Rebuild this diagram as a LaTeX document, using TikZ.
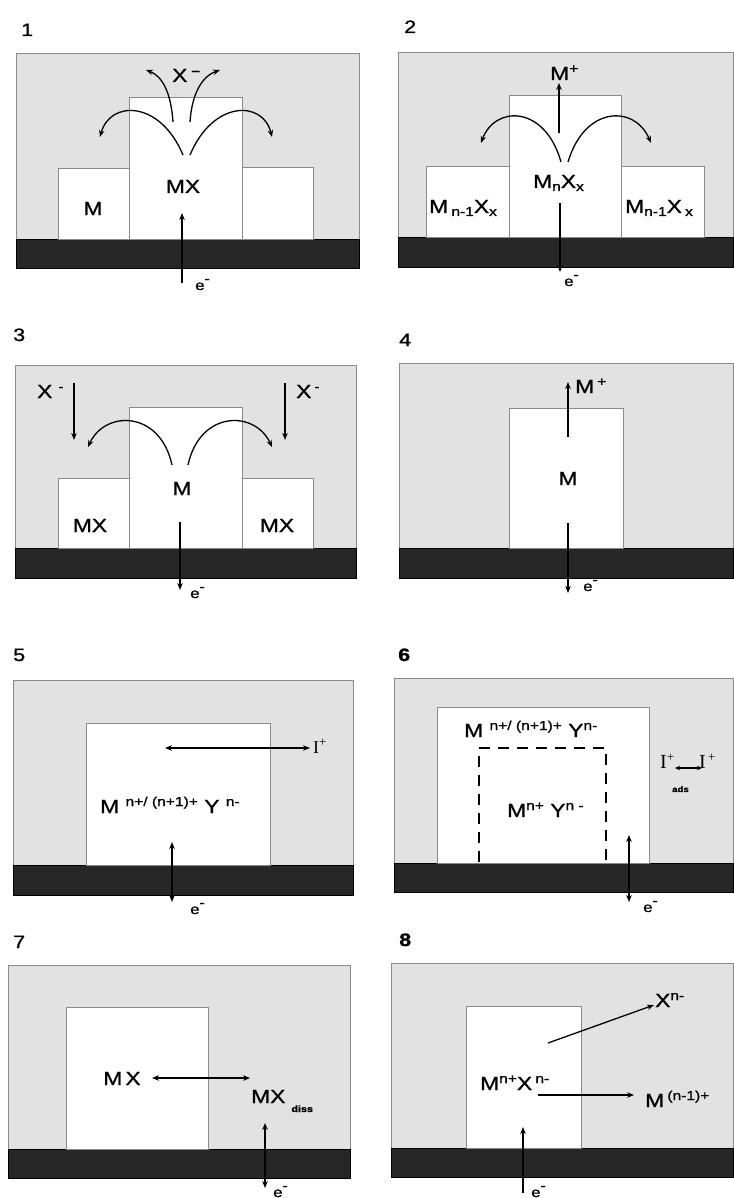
\documentclass[tikz,border=0pt]{standalone}
\usepackage{fontspec}
\setmainfont{Liberation Sans}[FakeStretch=1.2, FakeBold=1]
\newfontfamily\ionfont{Liberation Serif}
\usetikzlibrary{arrows.meta}
\definecolor{cellGrey}{HTML}{E2E2E2}
\definecolor{edgeGrey}{HTML}{8A8A8A}
\definecolor{baseDark}{HTML}{272727}
\newcommand{\sups}[1]{\raisebox{7pt}{\fontsize{13}{13}\selectfont #1}}
\newcommand{\subs}[1]{\raisebox{-3pt}{\fontsize{13}{13}\selectfont #1}}

\begin{document}
\begin{tikzpicture}[x=1pt, y=-1pt,
  font=\fontsize{19}{21}\selectfont,
  cell/.style={fill=cellGrey, draw=edgeGrey, line width=0.8pt},
  base/.style={fill=baseDark, draw=black, line width=0.8pt},
  grain/.style={fill=white, draw=edgeGrey, line width=0.7pt},
  species/.style={inner sep=0pt, anchor=base},
  speciesw/.style={inner sep=0pt, anchor=base west},
  elec/.style={inner sep=0pt, anchor=base west, font=\fontsize{14}{14}\selectfont},
  panelno/.style={inner sep=0pt, anchor=base west, font=\fontsize{18}{18}\selectfont},
  arrow/.style={-{Stealth[length=7pt, width=5.5pt]}, line width=1.3pt},
  twoway/.style={{Stealth[length=7pt, width=5.5pt]}-{Stealth[length=7pt, width=5.5pt]}, line width=1.3pt},
]
\useasboundingbox (0,0) rectangle (733,1198);

% 1
\node[panelno] (no1) at (21,36) {1};
\draw[cell] (16,53) rectangle (359,239);
\draw[base] (16,239) rectangle (359,268);
\draw[grain] (58,168) rectangle (129,239);
\draw[grain] (129,97) rectangle (242,239);
\draw[grain] (242,167) rectangle (313,239);
\node[species] (m1) at (93,215) {M};
\node[species] (mx1) at (183,193) {MX};
\node[speciesw] (x1) at (172,82) {X\hspace{4pt}\sups{\textbf{--}}};
\node[elec] (e1) at (195,290) {e\sups{-}};
\coordinate (p1a) at (183,155); \coordinate (p1b) at (100,137);
\coordinate (p1c) at (190,155); \coordinate (p1d) at (272,137);
\coordinate (p1e) at (173,122); \coordinate (p1f) at (146,70);
\coordinate (p1g) at (190,122); \coordinate (p1h) at (220,70);
\coordinate (p1i) at (182,283); \coordinate (p1j) at (182,213);
\draw[arrow] (p1a) .. controls (160,100) and (110,100) .. (p1b);
\draw[arrow] (p1c) .. controls (213,100) and (263,100) .. (p1d);
\draw[arrow] (p1e) .. controls (171,92) and (162,76) .. (p1f);
\draw[arrow] (p1g) .. controls (192,92) and (203,76) .. (p1h);
\draw[arrow] (p1i) -- (p1j);

% 2
\node[panelno] (no2) at (404,33) {2};
\draw[cell] (398,52) rectangle (733,237);
\draw[base] (398,237) rectangle (733,267);
\draw[grain] (426,166) rectangle (509,237);
\draw[grain] (509,95) rectangle (621,237);
\draw[grain] (621,166) rectangle (704,237);
\node[speciesw] (mp2) at (550,80) {M\sups{+}};
\node[speciesw] (mnx2) at (533,188) {M\subs{n}X\subs{x}};
\node[speciesw] (ml2) at (429,213) {M\,\subs{n-1}X\subs{x}};
\node[speciesw] (mr2) at (625,213) {M\subs{n-1}X\,\subs{x}};
\node[elec] (e2) at (564,286) {e\sups{-}};
\coordinate (p2a) at (561,162); \coordinate (p2b) at (481,143);
\coordinate (p2c) at (568,162); \coordinate (p2d) at (651,143);
\coordinate (p2e) at (559,133); \coordinate (p2f) at (559,83);
\coordinate (p2g) at (560,203); \coordinate (p2h) at (560,272);
\draw[arrow] (p2a) .. controls (545,105) and (495,105) .. (p2b);
\draw[arrow] (p2c) .. controls (585,105) and (635,105) .. (p2d);
\draw[arrow] (p2e) -- (p2f);
\draw[arrow] (p2g) -- (p2h);

% 3
\node[panelno] (no3) at (13,341) {3};
\draw[cell] (15,365) rectangle (356,548);
\draw[base] (15,548) rectangle (356,578);
\draw[grain] (58,478) rectangle (129,548);
\draw[grain] (129,407) rectangle (242,548);
\draw[grain] (242,478) rectangle (313,548);
\node[speciesw] (xl3) at (37,398) {X\hspace{6pt}\sups{-}};
\node[speciesw] (xr3) at (296,398) {X\hspace{3pt}\sups{-}};
\node[species] (m3) at (182,495) {M};
\node[species] (mxl3) at (90,532) {MX};
\node[species] (mxr3) at (277,532) {MX};
\node[elec] (e3) at (190,598) {e\sups{-}};
\coordinate (p3a) at (172,465); \coordinate (p3b) at (88,447);
\coordinate (p3c) at (188,465); \coordinate (p3d) at (272,447);
\coordinate (p3e) at (74,383); \coordinate (p3f) at (74,440);
\coordinate (p3g) at (285,383); \coordinate (p3h) at (285,440);
\coordinate (p3i) at (180,522); \coordinate (p3j) at (180,590);
\draw[arrow] (p3a) .. controls (160,410) and (105,410) .. (p3b);
\draw[arrow] (p3c) .. controls (200,410) and (255,410) .. (p3d);
\draw[arrow] (p3e) -- (p3f);
\draw[arrow] (p3g) -- (p3h);
\draw[arrow] (p3i) -- (p3j);

% 4
\node[panelno] (no4) at (399,346) {4};
\draw[cell] (399,363) rectangle (733,548);
\draw[base] (399,548) rectangle (733,578);
\draw[grain] (509,408) rectangle (623,548);
\node[speciesw] (mp4) at (575,393) {M\hspace{3pt}\sups{+}};
\node[species] (m4) at (568,485) {M};
\node[elec] (e4) at (583,591) {e\sups{-}};
\coordinate (p4a) at (568,437); \coordinate (p4b) at (568,382);
\coordinate (p4c) at (568,523); \coordinate (p4d) at (568,593);
\draw[arrow] (p4a) -- (p4b);
\draw[arrow] (p4c) -- (p4d);

% 5
\node[panelno] (no5) at (13,661) {5};
\draw[cell] (13,680) rectangle (353,865);
\draw[base] (13,865) rectangle (353,895);
\draw[grain] (86,723) rectangle (270,865);
\node[speciesw] (i5) at (313,753) {\ionfont\fontsize{18}{18}\selectfont I\sups{+}};
\node[speciesw] (my5) at (100,813) {M \sups{n+/ (n+1)+} Y \sups{n-}};
\node[elec] (e5) at (190,914) {e\sups{-}};
\coordinate (p5a) at (165,748); \coordinate (p5b) at (310,748);
\coordinate (p5c) at (172,842); \coordinate (p5d) at (172,902);
\draw[twoway] (p5a) -- (p5b);
\draw[twoway] (p5c) -- (p5d);

% 6
\node[panelno, font=\fontsize{18}{18}\selectfont\bfseries] (no6) at (398,661) {6};
\draw[cell] (394,678) rectangle (733,863);
\draw[base] (394,863) rectangle (733,892);
\draw[grain] (437,707) rectangle (649,863);
\draw[line width=1.3pt, dash pattern=on 11pt off 8pt] (479,862) -- (479,748) -- (606,748) -- (606,862);
\node[speciesw] (mys6) at (464,737) {M \sups{n+/ (n+1)+} Y\sups{n-}};
\node[speciesw] (myi6) at (507,817) {M\sups{n+} Y\sups{n -}};
\node[speciesw] (il6) at (660,768) {\ionfont\fontsize{20}{20}\selectfont I\sups{+}};
\node[speciesw] (ir6) at (699,768) {\ionfont\fontsize{20}{20}\selectfont I\sups{\,+}};
\node[speciesw, font=\fontsize{8}{8}\selectfont\bfseries] (ads6) at (672,792) {ads};
\node[elec] (e6) at (643,912) {e\sups{-}};
\coordinate (p6a) at (675,768); \coordinate (p6b) at (702,768);
\coordinate (p6c) at (629,835); \coordinate (p6d) at (629,902);
\draw[{Stealth[length=5pt, width=4.5pt]}-{Stealth[length=5pt, width=4.5pt]}, line width=1.1pt] (p6a) -- (p6b);
\draw[twoway] (p6c) -- (p6d);

% 7
\node[panelno] (no7) at (13,948) {7};
\draw[cell] (8,965) rectangle (350,1149);
\draw[base] (8,1149) rectangle (350,1178);
\draw[grain] (66,1007) rectangle (208,1149);
\node[species] (mx7) at (122,1085) {M\,X};
\node[speciesw] (mxd7) at (251,1103) {MX\hspace{6pt}\raisebox{-9pt}{\fontsize{9}{9}\selectfont\bfseries diss}};
\node[elec] (e7) at (273,1197) {e\sups{-}};
\coordinate (p7a) at (152,1078); \coordinate (p7b) at (250,1078);
\coordinate (p7c) at (265,1123); \coordinate (p7d) at (265,1188);
\draw[twoway] (p7a) -- (p7b);
\draw[twoway] (p7c) -- (p7d);

% 8
\node[panelno, font=\fontsize{18}{18}\selectfont\bfseries] (no8) at (399,946) {8};
\draw[cell] (391,963) rectangle (733,1148);
\draw[base] (391,1148) rectangle (733,1177);
\draw[grain] (466,1006) rectangle (581,1148);
\node[speciesw] (mx8) at (480,1090) {M\sups{n+}X\,\sups{n-}};
\node[speciesw] (x8) at (655,1007) {X\sups{n-}};
\node[speciesw] (m8) at (645,1107) {M\,\sups{(n-1)+}};
\node[elec] (e8) at (531,1197) {e\sups{-}};
\coordinate (p8a) at (548,1043); \coordinate (p8b) at (654,1005);
\coordinate (p8c) at (538,1095); \coordinate (p8d) at (634,1095);
\coordinate (p8e) at (523,1193); \coordinate (p8f) at (523,1127);
\draw[arrow] (p8a) -- (p8b);
\draw[arrow] (p8c) -- (p8d);
\draw[arrow] (p8e) -- (p8f);
\end{tikzpicture}
\end{document}
